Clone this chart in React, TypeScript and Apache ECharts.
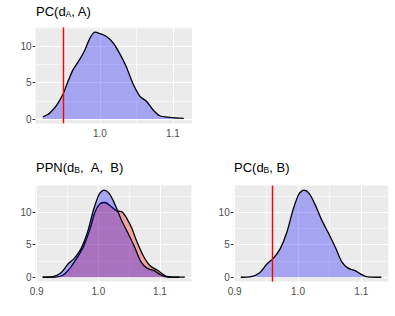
import React, { useEffect, useRef } from "react";
import * as echarts from "echarts";

// PC(d_A, A) density
const pcA_x = [0.922, 0.9275, 0.932, 0.941, 0.950, 0.957, 0.9636, 0.9727, 0.9795, 0.9864, 0.9932, 1.0, 1.009, 1.018, 1.027, 1.036, 1.045, 1.0546, 1.064, 1.073, 1.082, 1.0955, 1.1146];
const pcA_y = [0.31, 0.55, 0.86, 1.9, 3.5, 5.3, 6.8, 8.2, 9.45, 11.05, 11.9, 11.7, 11.3, 10.45, 9.0, 7.2, 4.9, 3.15, 2.4, 1.23, 0.45, 0.23, 0.1];

// density of B (PPN panel and PC(d_B, B))
const b_x = [0.9095, 0.926, 0.9395, 0.9505, 0.961, 0.972, 0.982, 0.992, 1.0015, 1.0095, 1.0175, 1.026, 1.037, 1.048, 1.059, 1.069, 1.079, 1.0895, 1.1, 1.11, 1.1316];
const b_y = [0, 0.1, 0.7, 2.0, 2.9, 4.4, 6.8, 10.3, 12.8, 13.4, 12.9, 11.4, 8.9, 6.8, 4.6, 2.4, 1.4, 1.05, 0.45, 0.05, 0];

// density of A (PPN panel)
const a_x = [0.9097, 0.9297, 0.943, 0.954, 0.9648, 0.9755, 0.9864, 0.9945, 1.0026, 1.0107, 1.0216, 1.0297, 1.0378, 1.0459, 1.054, 1.062, 1.0728, 1.0836, 1.097, 1.1107, 1.127, 1.1404];
const a_y = [0, 0.02, 0.35, 1.4, 2.9, 4.6, 7.4, 10.0, 11.3, 11.5, 10.8, 10.2, 10.1, 9.1, 7.6, 5.6, 3.3, 1.8, 1.0, 0.15, 0.02, 0.02];

const vlineA = 0.9525;
const vlineB = 0.9605;

const xTicks1 = [1.0, 1.1];
const xTicks23 = [0.9, 1.0, 1.1];
const xMinor1 = [0.95, 1.05];
const xMinor23 = [0.95, 1.05, 1.15];
const yTicks = [0, 5, 10];
const yMinor = [2.5, 7.5, 12.5];

const FONT = "'Liberation Sans', Arial, Helvetica, sans-serif";

const zip = (xs: number[], ys: number[]) => xs.map((x, i) => [x, ys[i]]);

const xAxisCfg = (gridIndex: number, min: number, max: number, ticks: number[]) => ({
  type: "value",
  gridIndex,
  min,
  max,
  axisLine: { show: false },
  axisTick: { show: true, length: 3, lineStyle: { color: "#333333", width: 1 }, customValues: ticks },
  axisLabel: {
    show: true,
    customValues: ticks,
    formatter: (v: number) => v.toFixed(1),
    color: "#4D4D4D",
    fontSize: 10,
    margin: 5,
    fontFamily: FONT,
  },
  splitLine: { show: false },
});

const yAxisCfg = (gridIndex: number, min: number, max: number) => ({
  type: "value",
  gridIndex,
  min,
  max,
  axisLine: { show: false },
  axisTick: { show: true, length: 3, lineStyle: { color: "#333333", width: 1 }, customValues: yTicks },
  axisLabel: {
    show: true,
    customValues: yTicks,
    formatter: (v: number) => String(v),
    color: "#4D4D4D",
    fontSize: 10,
    margin: 4,
    fontFamily: FONT,
  },
  splitLine: { show: false },
});

const gridSeries = (idx: number, xMaj: number[], xMin: number[], x0: number) => ({
  type: "line",
  xAxisIndex: idx,
  yAxisIndex: idx,
  data: [[x0, 0]],
  showSymbol: false,
  symbol: "none",
  lineStyle: { opacity: 0 },
  silent: true,
  z: 1,
  markLine: {
    silent: true,
    z: 1,
    symbol: ["none", "none"],
    label: { show: false },
    emphasis: { disabled: true },
    lineStyle: { color: "#FFFFFF", type: "solid" },
    data: [
      ...xMin.map((v) => ({ xAxis: v, lineStyle: { color: "#FFFFFF", width: 0.55, type: "solid" } })),
      ...yMinor.map((v) => ({ yAxis: v, lineStyle: { color: "#FFFFFF", width: 0.55, type: "solid" } })),
      ...xMaj.map((v) => ({ xAxis: v, lineStyle: { color: "#FFFFFF", width: 1.1, type: "solid" } })),
      ...yTicks.map((v) => ({ yAxis: v, lineStyle: { color: "#FFFFFF", width: 1.1, type: "solid" } })),
    ],
  },
});

const densitySeries = (idx: number, xs: number[], ys: number[], fill: string, z: number) => ({
  type: "line",
  xAxisIndex: idx,
  yAxisIndex: idx,
  data: zip(xs, ys),
  smooth: 0.3,
  symbol: "none",
  showSymbol: false,
  lineStyle: { color: "#000000", width: 1.3 },
  areaStyle: { color: fill, origin: "auto", opacity: 1 },
  silent: true,
  z,
});

const vlineSeries = (idx: number, v: number, x0: number) => ({
  type: "line",
  xAxisIndex: idx,
  yAxisIndex: idx,
  data: [[x0, 0]],
  showSymbol: false,
  symbol: "none",
  lineStyle: { opacity: 0 },
  silent: true,
  z: 10,
  markLine: {
    silent: true,
    z: 10,
    symbol: ["none", "none"],
    label: { show: false },
    emphasis: { disabled: true },
    lineStyle: { color: "#FF0000", width: 1.4, type: "solid" },
    data: [{ xAxis: v }],
  },
});

const titleRich = {
  n: { fontSize: 13, fontFamily: FONT, color: "#000000", lineHeight: 16, verticalAlign: "bottom" },
  s: { fontSize: 8.5, fontFamily: FONT, color: "#000000", lineHeight: 9, verticalAlign: "bottom" },
  r: { fontSize: 13, fontFamily: FONT, color: "#FF0000", lineHeight: 16, verticalAlign: "bottom" },
  b: { fontSize: 13, fontFamily: FONT, color: "#0000FF", lineHeight: 16, verticalAlign: "bottom" },
};

export default function App() {
  const ref = useRef<HTMLDivElement>(null);
  useEffect(() => {
    if (!ref.current) return;
    const chart = echarts.init(ref.current, undefined, { renderer: "svg" });
    const x1 = [0.912, 1.126];
    const x2 = [0.898, 1.152];
    const x3 = [0.8984, 1.1427];
    const option: any = {
      animation: false,
      backgroundColor: "#FFFFFF",
      grid: [
        { left: 35.5, top: 27.4, width: 156.5, height: 96, show: true, backgroundColor: "#EBEBEB", borderWidth: 0 },
        { left: 35.5, top: 185.6, width: 156.5, height: 96, show: true, backgroundColor: "#EBEBEB", borderWidth: 0 },
        { left: 233.7, top: 185.6, width: 154.6, height: 96, show: true, backgroundColor: "#EBEBEB", borderWidth: 0 },
      ],
      xAxis: [
        xAxisCfg(0, x1[0], x1[1], xTicks1),
        xAxisCfg(1, x2[0], x2[1], xTicks23),
        xAxisCfg(2, x3[0], x3[1], xTicks23),
      ],
      yAxis: [yAxisCfg(0, -0.6, 12.55), yAxisCfg(1, -0.67, 14.1), yAxisCfg(2, -0.67, 14.1)],
      series: [
        gridSeries(0, xTicks1, xMinor1, x1[0]),
        gridSeries(1, xTicks23, xMinor23, x2[0]),
        gridSeries(2, xTicks23, xMinor23, x3[0]),
        densitySeries(0, pcA_x, pcA_y, "rgba(0,0,255,0.3)", 2),
        densitySeries(1, a_x, a_y, "rgba(255,0,0,0.3)", 2),
        densitySeries(1, b_x, b_y, "rgba(0,0,255,0.3)", 3),
        densitySeries(2, b_x, b_y, "rgba(0,0,255,0.3)", 2),
        vlineSeries(0, vlineA, x1[0]),
        vlineSeries(2, vlineB, x3[0]),
      ],
      graphic: [
        {
          type: "text",
          left: 36,
          top: 5,
          silent: true,
          style: { text: "{n|PC(d}{s|A}{n|, A)}", rich: titleRich, fontFamily: FONT },
        },
        {
          type: "text",
          left: 36,
          top: 161,
          silent: true,
          style: {
            text: "{n|PPN(d}{s|B}{n|,\u00A0\u00A0}{r|A}{n|,\u00A0\u00A0}{b|B}{n|)}",
            rich: titleRich,
            fontFamily: FONT,
          },
        },
        {
          type: "text",
          left: 234,
          top: 161,
          silent: true,
          style: { text: "{n|PC(d}{s|B}{n|, B)}", rich: titleRich, fontFamily: FONT },
        },
      ],
    };
    chart.setOption(option);
    return () => chart.dispose();
  }, []);
  return (
    <div
      ref={ref}
      style={{ position: "absolute", left: 0, top: 0, width: 395, height: 316, background: "#FFFFFF" }}
    />
  );
}
